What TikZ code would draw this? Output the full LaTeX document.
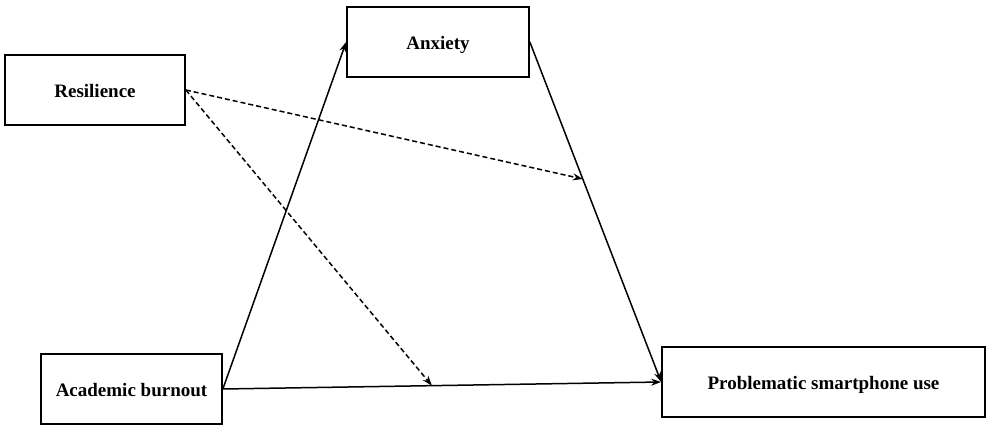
\documentclass[tikz,border=0pt]{standalone}
\usepackage{fontspec}
\setmainfont{Liberation Serif}
\usetikzlibrary{arrows.meta}
\begin{document}
\begin{tikzpicture}[x=1pt,y=1pt,
  box/.style={draw,line width=1.7pt,minimum height=70pt,inner sep=0pt,text height=15pt,text depth=0pt,font=\fontsize{19}{22}\selectfont\bfseries},
  conn/.style={line width=1.5pt,-{Stealth[length=10pt,width=7pt]}},
  dconn/.style={conn,dash pattern=on 5pt off 3pt}]
\useasboundingbox (0,0) rectangle (992,431);
\node[box,minimum width=180pt] (res) at (95,341) {Resilience};
\node[box,minimum width=182pt] (anx) at (438,389) {Anxiety};
\node[box,minimum width=181pt] (ab) at (131.5,42) {Academic burnout};
\node[box,minimum width=323pt] (psu) at (823.5,49) {Problematic smartphone use};
\draw[conn] (ab.east) -- (anx.west);
\draw[conn] (anx.east) -- coordinate[pos=0.403] (m1) (psu.west);
\draw[conn] (ab.east) -- coordinate[pos=0.477] (m2) (psu.west);
\draw[dconn] (res.east) -- (m1);
\draw[dconn] (res.east) -- (m2);
\end{tikzpicture}
\end{document}
